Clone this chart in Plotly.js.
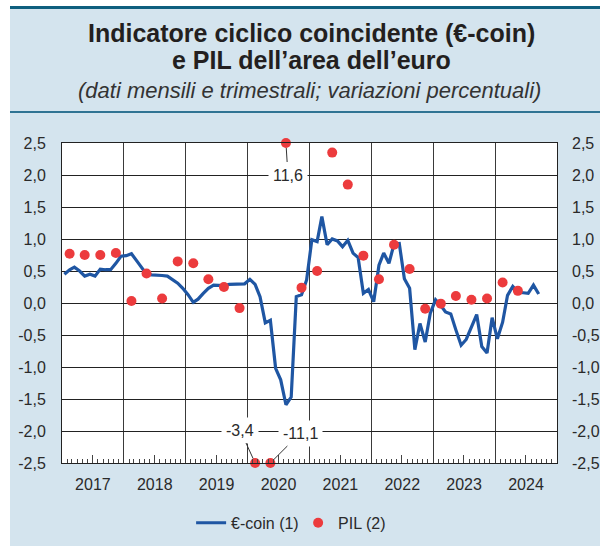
<!DOCTYPE html>
<html>
<head>
<meta charset="utf-8">
<script src="https://cdn.plot.ly/plotly-3.0.1.min.js"></script>
<style>
  html, body { margin: 0; padding: 0; background: #ffffff; }
  #wrap { position: relative; width: 600px; height: 546px; overflow: hidden; background: #ffffff; }
  #bg { position: absolute; left: 10px; top: 6px; width: 590px; height: 540px; background: #d4e4ee; }
  #topline { position: absolute; left: 10px; top: 6px; width: 590px; height: 3px; background: #0e5f7e; }
  #headline { position: absolute; left: 10px; top: 111px; width: 590px; height: 2px; background: #2f7393; }
  #chart { position: absolute; left: 0; top: 0; width: 600px; height: 546px; }
</style>
</head>
<body>
<div id="wrap">
  <div id="bg"></div>
  <div id="topline"></div>
  <div id="headline"></div>
  <div id="chart"></div>
</div>
<script>
// ---- DATA ----
const coinStart = [2017, 1]; // first month of the monthly series
const euroCoin = [
  0.45, 0.52, 0.56, 0.50, 0.42, 0.45, 0.42, 0.53, 0.52, 0.52, 0.62, 0.73,   // 2017
  0.74, 0.77, 0.67, 0.55, 0.45, 0.44, 0.44, 0.43, 0.42, 0.37, 0.31, 0.23,   // 2018
  0.13, 0.01, 0.06, 0.15, 0.23, 0.28, 0.28, 0.27, 0.29, 0.29, 0.29, 0.30,   // 2019
  0.37, 0.29, 0.10, -0.31, -0.27, -1.02, -1.20, -1.59, -1.47, 0.10, 0.13, 0.36, // 2020
  0.99, 0.96, 1.35, 0.91, 1.00, 0.97, 0.88, 0.98, 0.78, 0.71, 0.15, 0.21,   // 2021
  0.02, 0.59, 0.78, 0.62, 0.92, 0.93, 0.38, 0.23, -0.73, -0.32, -0.61, -0.16, // 2022
  0.05, -0.04, -0.14, -0.17, -0.42, -0.66, -0.57, -0.38, -0.18, -0.68, -0.78, -0.23, // 2023
  -0.56, -0.30, 0.12, 0.26, 0.17, 0.16, 0.15, 0.28, 0.14                    // 2024
];
const pilStart = [2017, 1]; // first quarter of the quarterly series
const pil = [
  0.77, 0.75, 0.75, 0.78,   // 2017
  0.03, 0.46, 0.07, 0.65,   // 2018
  0.62, 0.37, 0.25, -0.08,  // 2019
  -3.4, -11.1, 11.6, 0.24,  // 2020
  0.50, 2.35, 1.85, 0.74,   // 2021
  0.37, 0.91, 0.53, -0.09,  // 2022
  -0.01, 0.11, 0.05, 0.07,  // 2023
  0.32, 0.19                // 2024
];
const yTickVals = [2.5, 2.0, 1.5, 1.0, 0.5, 0.0, -0.5, -1.0, -1.5, -2.0, -2.5];
const yTickText = ["2,5", "2,0", "1,5", "1,0", "0,5", "0,0", "-0,5", "-1,0", "-1,5", "-2,0", "-2,5"];
const yMin = -2.5, yMax = 2.5;
const titleLines = ["Indicatore ciclico coincidente (€-coin)", "e PIL dell’area dell’euro"];
const subtitle = "(dati mensili e trimestrali; variazioni percentuali)";
const seriesNames = ["€-coin (1)", "PIL (2)"];

// ---- BUILD ----
function pad(n) { return (n < 10 ? "0" : "") + n; }
const coinDates = euroCoin.map((_, i) => {
  const t = coinStart[0] * 12 + (coinStart[1] - 1) + i;
  return Math.floor(t / 12) + "-" + pad(t % 12 + 1) + "-15";
});
const pilDates = pil.map((_, i) => {
  const q = (pilStart[0] * 4 + (pilStart[1] - 1) + i);
  const y = Math.floor(q / 4), qi = q % 4;
  return y + "-" + pad(qi * 3 + 2) + "-15";
});
const pilPlot = pil.map(v => Math.max(yMin, Math.min(yMax, v)));
function fmt(v) { return String(v).replace(".", ","); }

const FONT = "Liberation Sans, Arial, Helvetica, sans-serif";
const TXT = "#2a2a2a";

const traces = [
  { type: "scatter", mode: "lines", x: coinDates, y: euroCoin, name: seriesNames[0],
    line: { color: "#1f56a3", width: 3.2 }, hoverinfo: "skip" },
  { type: "scatter", mode: "markers", x: pilDates, y: pilPlot, name: seriesNames[1],
    marker: { color: "#ec3b3d", size: 10 }, cliponaxis: false, hoverinfo: "skip" },
  { type: "scatter", x: [], y: [], xaxis: "x2", yaxis: "y", showlegend: false, hoverinfo: "skip" },
  { type: "scatter", x: [], y: [], xaxis: "x", yaxis: "y2", showlegend: false, hoverinfo: "skip" }
];

// annotations for clipped values
const ann = [];
const outIdx = pil.map((v, i) => (v > yMax || v < yMin) ? i : -1).filter(i => i >= 0);
const offsets = { 0: [-15, -33], 1: [30, -30], 2: [2, 32] };
outIdx.forEach((i, k) => {
  const off = offsets[k] || [0, 30];
  ann.push({ x: pilDates[i], y: pilPlot[i], xref: "x", yref: "y", text: fmt(pil[i]),
    showarrow: true, arrowhead: 0, arrowwidth: 1, arrowcolor: "#333", standoff: 5,
    ax: off[0], ay: off[1], bgcolor: "#ffffff", borderpad: 4,
    font: { family: FONT, size: 16, color: TXT } });
});
ann.push({ xref: "paper", yref: "paper", x: 0.505, y: 1.344, xanchor: "center", yanchor: "middle",
  text: "<b>" + titleLines[0] + "</b>", showarrow: false, font: { family: FONT, size: 25, color: "#231f20" } });
ann.push({ xref: "paper", yref: "paper", x: 0.505, y: 1.258, xanchor: "center", yanchor: "middle",
  text: "<b>" + titleLines[1] + "</b>", showarrow: false, font: { family: FONT, size: 25, color: "#231f20" } });
ann.push({ xref: "paper", yref: "paper", x: 0.5, y: 1.1625, xanchor: "center", yanchor: "middle",
  text: "<i>" + subtitle + "</i>", showarrow: false, font: { family: FONT, size: 22, color: "#333" } });

const layout = {
  width: 600, height: 546,
  margin: { l: 62, r: 43, t: 143, b: 83, pad: 0, autoexpand: false },
  paper_bgcolor: "rgba(0,0,0,0)",
  plot_bgcolor: "#ffffff",
  showlegend: true,
  hovermode: false,
  legend: { orientation: "h", x: 0.477, xanchor: "center", y: -0.187, yanchor: "middle",
    font: { family: FONT, size: 16, color: TXT }, itemwidth: 30, entrywidth: 62, entrywidthmode: "pixels",
    bgcolor: "rgba(0,0,0,0)" },
  xaxis: {
    type: "date", range: ["2017-01-01", "2025-01-01"],
    tick0: "2017-01-01", dtick: "M12", ticklabelmode: "period", tickformat: "%Y",
    ticks: "", showgrid: true, gridcolor: "#3a3a3a", gridwidth: 1,
    showline: true, linecolor: "#222", linewidth: 1, mirror: true,
    tickfont: { family: FONT, size: 16, color: TXT }, ticklabelstandoff: 7,
    minor: { ticks: "inside", ticklen: 4, tickcolor: "#444", tickwidth: 1, dtick: "M1", tick0: "2017-01-01", showgrid: false },
    zeroline: false, fixedrange: true
  },
  xaxis2: {
    type: "date", range: ["2017-01-01", "2025-01-01"], overlaying: "x", anchor: "y", side: "bottom",
    tick0: "2017-07-01", dtick: "M12", ticks: "inside", ticklen: 8, tickcolor: "#444", tickwidth: 1,
    showticklabels: false, showgrid: false, showline: false, zeroline: false, fixedrange: true
  },
  yaxis: {
    range: [yMin, yMax], tickvals: yTickVals, ticktext: yTickText,
    showgrid: true, gridcolor: "#222", gridwidth: 1, zeroline: false,
    showline: true, linecolor: "#222", linewidth: 1, mirror: true,
    ticks: "", tickfont: { family: FONT, size: 16, color: TXT }, ticklabelstandoff: 12, fixedrange: true
  },
  yaxis2: {
    range: [yMin, yMax], tickvals: yTickVals, ticktext: yTickText, overlaying: "y", side: "right", anchor: "x",
    showgrid: false, zeroline: false, showline: false, ticks: "",
    tickfont: { family: FONT, size: 16, color: TXT }, ticklabelstandoff: 14, fixedrange: true
  },
  annotations: ann
};

Plotly.newPlot("chart", traces, layout, { displayModeBar: false, staticPlot: true });
</script>
</body>
</html>
